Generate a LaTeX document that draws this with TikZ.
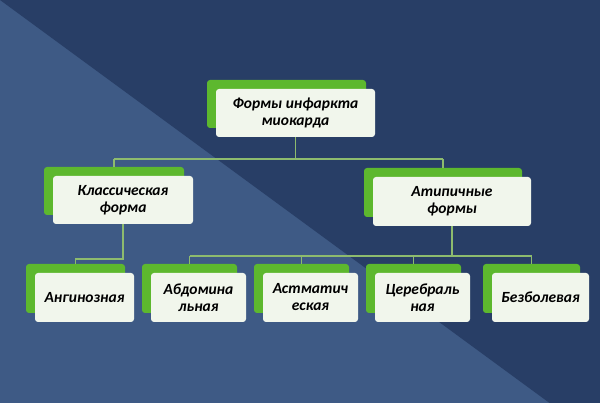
\documentclass[tikz,border=0pt]{standalone}
\usepackage{fontspec}
\setmainfont{Carlito}
\begin{document}
\begin{tikzpicture}[x=1pt,y=-1pt]
\definecolor{bgl}{HTML}{3E5A85}
\definecolor{bgd}{HTML}{283E66}
\definecolor{gback}{HTML}{5DB82E}
\definecolor{fbox}{HTML}{F1F6EC}
\definecolor{lnc}{HTML}{8DBB6E}
\tikzset{lbl/.style={font=\bfseries\itshape\fontsize{15.5}{17}\selectfont, align=center, inner sep=0pt}}
\useasboundingbox (0,0) rectangle (600,403);
\clip (0,0) rectangle (600,403);
\fill[bgl] (0,0) rectangle (600,403);
\fill[bgd] (0,0) -- (600,0) -- (600,440) -- cycle;
\newcommand\mybox[6]{%
 \fill[gback,rounded corners=3pt] (#1-9,#2-9) rectangle (#3-9,#4-9);
 \fill[fbox,rounded corners=3pt] (#1,#2) rectangle (#3,#4);
 \node[lbl] (#5) at ({(#1+#3)/2},{(#2+#4)/2}) {#6};
 \coordinate (#5t) at ({(#1+#3)/2-9},#2-9);
 \coordinate (#5b) at ({(#1+#3)/2},#4);}
\mybox{216}{89}{375}{137}{top}{Формы инфаркта\\миокарда}
\mybox{53}{176}{193}{224}{cl}{Классическая\\форма}
\mybox{373}{177}{531}{226}{at}{Атипичные\\формы}
\mybox{35}{273}{134}{322}{a1}{Ангинозная}
\mybox{151}{273}{246}{322}{a2}{Абдомина\\льная}
\mybox{263}{273}{358}{322}{a3}{Астматич\\еская}
\mybox{375}{273}{470}{322}{a4}{Церебраль\\ная}
\mybox{492}{273}{589}{322}{a5}{Безболевая}
\begin{scope}[lnc, line width=1.5pt]
\coordinate (h1) at (0,159);
\draw (topb) -- (topb|-h1) (clt|-h1) -- (att|-h1);
\draw (clt|-h1) -- (clt) (att|-h1) -- (att);
\coordinate (h2) at (0,259);
\draw (clb) -- (clb|-h2) -| (a1t);
\coordinate (h3) at (0,256);
\draw (atb) -- (atb|-h3);
\draw (a2t|-h3) -- (a5t|-h3);
\foreach \n in {a2,a3,a4,a5} \draw (\n t|-h3) -- (\n t);
\end{scope}
\end{tikzpicture}
\end{document}
